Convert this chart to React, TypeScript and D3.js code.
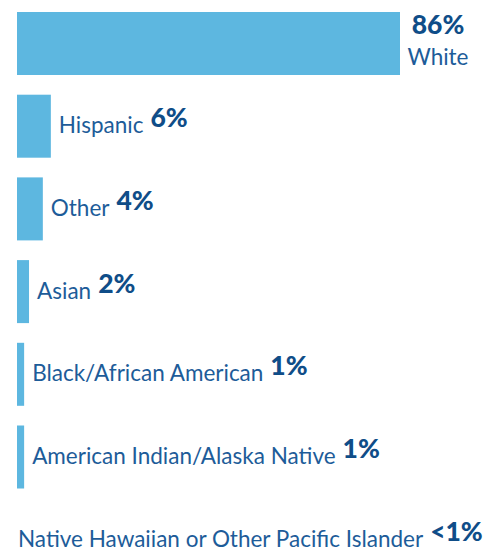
import React from "react";
import * as d3 from "d3";

const categories = [
  "White",
  "Hispanic",
  "Other",
  "Asian",
  "Black/African American",
  "American Indian/Alaska Native",
  "Native Hawaiian or Other Pacific Islander",
];
const barValues = [86, 7.6, 5.8, 2.7, 1.6, 1.6, 0];
const valueLabels = ["86%", "6%", "4%", "2%", "1%", "1%", "<1%"];

const W = 494;
const H = 552;
const BAR = "#5db7e0";
const LABEL = "#1d5c99";
const NUM = "#0f4d88";
const FONT = "Lato, 'Open Sans', sans-serif";

export default function App() {
  const x = d3.scaleLinear().domain([0, 86]).range([17, 400]);
  const y = d3
    .scaleBand<string>()
    .domain(categories)
    .range([12, 12 + 6 * 82.7 + 63])
    .paddingInner(19.7 / 82.7)
    .paddingOuter(0);
  const bw = y.bandwidth();

  return (
    <svg
      width={W}
      height={H}
      style={{ position: "absolute", left: 0, top: 0, background: "#fff" }}
      fontFamily={FONT}
    >
      {categories.map((c, i) => {
        const v = barValues[i];
        const y0 = y(c)!;
        const xe = x(v);
        return (
          <rect key={"b" + c} x={x(0)} y={y0} width={xe - x(0)} height={bw} fill={BAR} />
        );
      })}
      {categories.map((c, i) => {
        const v = barValues[i];
        const y0 = y(c)!;
        const xe = x(v);
        if (i === 0) {
          const cx = xe + 38;
          return (
            <g key={"l" + c}>
              <text x={cx} y={y0 + 22} textAnchor="middle" fill={NUM} fontWeight={900} fontSize={26.5}>
                {valueLabels[i]}
              </text>
              <text x={cx} y={y0 + bw - 10} textAnchor="middle" fill={LABEL} fontSize={22.5}>
                {c}
              </text>
            </g>
          );
        }
        const gap = v > 0 ? 8 : 1;
        return (
          <text key={"l" + c} x={xe + gap} y={y0 + bw / 2 + 7} fill={LABEL} fontSize={22.5}>
            <tspan>{c}</tspan>
            <tspan dx={7} dy={-6} fill={NUM} fontWeight={900} fontSize={26.5}>
              {valueLabels[i]}
            </tspan>
          </text>
        );
      })}
    </svg>
  );
}
